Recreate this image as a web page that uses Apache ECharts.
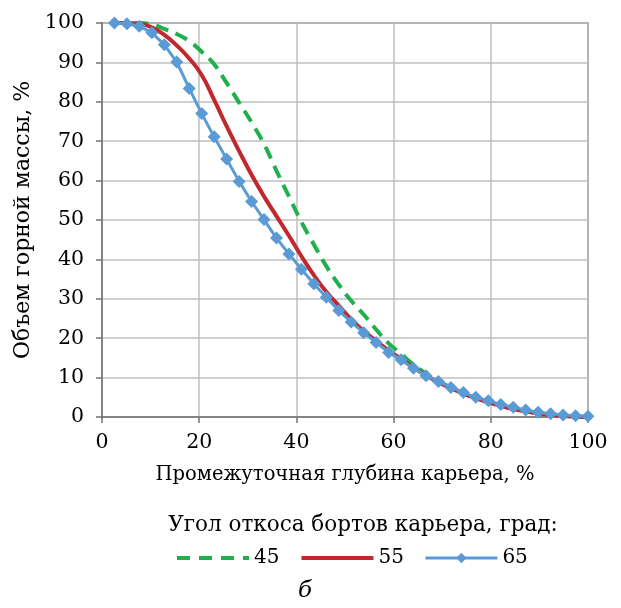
<!DOCTYPE html>
<html>
<head>
<meta charset="utf-8">
<script src="https://cdn.jsdelivr.net/npm/echarts@6/dist/echarts.min.js"></script>
<style>
  html, body { margin: 0; padding: 0; background: #fff; }
  #chart { width: 621px; height: 608px; }
</style>
</head>
<body>
<div id="chart"></div>
<script>
// Intermediate pit depth, % (39 equal steps)
const depth = [2.56, 5.13, 7.69, 10.26, 12.82, 15.38, 17.95, 20.51, 23.08, 25.64,
  28.21, 30.77, 33.33, 35.90, 38.46, 41.03, 43.59, 46.15, 48.72, 51.28,
  53.85, 56.41, 58.97, 61.54, 64.10, 66.67, 69.23, 71.79, 74.36, 76.92,
  79.49, 82.05, 84.62, 87.18, 89.74, 92.31, 94.87, 97.44, 100];

// Rock mass volume, % for each slope angle
const angle45 = [100, 100, 100, 99.6, 98.5, 97.2, 95.4, 92.7, 89.5, 84.8,
  79.8, 74.8, 69.3, 62.5, 56.0, 49.5, 43.8, 38.3, 33.6, 29.5,
  26.0, 22.2, 18.7, 16.0, 13.3, 11.0, 9.1, 7.5, 6.1, 4.9,
  3.9, 3.0, 2.2, 1.5, 1.0, 0.6, 0.3, 0.1, 0];
const angle55 = [100, 100, 99.8, 98.9, 97.0, 94.3, 91.0, 86.8, 80.5, 73.8,
  67.5, 61.5, 56.0, 51.0, 46.0, 40.8, 36.0, 31.8, 28.3, 24.8,
  21.8, 19.3, 16.9, 14.7, 12.5, 10.6, 8.8, 7.3, 5.9, 4.7,
  3.7, 2.8, 2.0, 1.4, 0.9, 0.5, 0.3, 0.1, 0];
const angle65 = [100, 99.8, 99.2, 97.5, 94.5, 90.1, 83.4, 77.0, 71.1, 65.5,
  59.8, 54.7, 50.1, 45.4, 41.4, 37.5, 33.8, 30.4, 27.0, 24.1,
  21.4, 18.9, 16.4, 14.5, 12.4, 10.5, 9.0, 7.5, 6.2, 5.0,
  4.1, 3.2, 2.5, 1.8, 1.2, 0.8, 0.5, 0.3, 0.2];

const seriesNames = ['45', '55', '65'];
const xTicks = [0, 20, 40, 60, 80, 100];
const yTicks = [0, 10, 20, 30, 40, 50, 60, 70, 80, 90, 100];

const font = '"DejaVu Serif", "Liberation Serif", serif';
const pair = (ys) => depth.map((x, i) => [x, ys[i]]);

const chart = echarts.init(document.getElementById('chart'), null, { renderer: 'canvas' });
chart.setOption({
  animation: false,
  backgroundColor: '#ffffff',
  textStyle: { fontFamily: font, color: '#000' },
  grid: {
    left: 102, top: 23, right: 33, bottom: 191,
    show: true, borderColor: '#737373', borderWidth: 1.5, backgroundColor: 'transparent'
  },
  title: [
    {
      text: 'Угол откоса бортов карьера, град:',
      left: 358, top: 509, textAlign: 'center',
      textStyle: { fontFamily: font, fontSize: 21.5, fontWeight: 'normal', color: '#000' }
    },
    {
      text: 'б',
      left: 300, top: 575, textAlign: 'center',
      textStyle: { fontFamily: font, fontSize: 23, fontStyle: 'italic', fontWeight: 'normal', color: '#000' }
    }
  ],
  legend: {
    data: [
      { name: seriesNames[0], itemStyle: { opacity: 0 }, lineStyle: { width: 4, type: [13, 9] } },
      { name: seriesNames[1], itemStyle: { opacity: 0 }, lineStyle: { width: 4 } },
      { name: seriesNames[2], lineStyle: { width: 3 } }
    ],
    left: 170, top: 543,
    itemWidth: 72, itemHeight: 13, itemGap: 20,
    textStyle: { fontFamily: font, fontSize: 20, color: '#000' }
  },
  xAxis: {
    type: 'value', min: 0, max: 100, interval: 20,
    name: 'Промежуточная глубина карьера, %',
    nameLocation: 'middle', nameGap: 48,
    nameTextStyle: { fontFamily: font, fontSize: 19.5, color: '#000' },
    axisLine: { show: true, onZero: false, lineStyle: { color: '#737373', width: 1.5 } },
    axisTick: { show: true, length: 6, lineStyle: { color: '#737373', width: 1.5 } },
    axisLabel: {
      fontFamily: font, fontSize: 20.5, color: '#000', margin: 15,
      formatter: (v) => xTicks.includes(v) ? String(v) : ''
    },
    splitLine: { show: true, lineStyle: { color: '#bfbfbf', width: 1.5 } }
  },
  yAxis: {
    type: 'value', min: 0, max: 100, interval: 10,
    name: 'Объем горной массы, %',
    nameLocation: 'middle', nameGap: 63, nameRotate: 90,
    nameTextStyle: { fontFamily: font, fontSize: 22, color: '#000' },
    axisLine: { show: true, lineStyle: { color: '#737373', width: 1.5 } },
    axisTick: { show: true, length: 6, lineStyle: { color: '#737373', width: 1.5 } },
    axisLabel: {
      fontFamily: font, fontSize: 20.5, color: '#000', margin: 18,
      formatter: (v) => yTicks.includes(v) ? String(v) : ''
    },
    splitLine: { show: true, lineStyle: { color: '#bfbfbf', width: 1.5 } }
  },
  series: [
    {
      name: seriesNames[0], type: 'line', data: pair(angle45), smooth: true,
      showSymbol: false, symbol: 'none', z: 2,
      lineStyle: { color: '#1db04b', width: 4, type: [13, 8] },
      itemStyle: { color: '#1db04b' }
    },
    {
      name: seriesNames[1], type: 'line', data: pair(angle55), smooth: true,
      showSymbol: false, symbol: 'none', z: 3,
      lineStyle: { color: '#c1272d', width: 4 },
      itemStyle: { color: '#c1272d' }
    },
    {
      name: seriesNames[2], type: 'line', data: pair(angle65), smooth: false,
      symbol: 'diamond', symbolSize: 13, z: 4,
      lineStyle: { color: '#5b9bd5', width: 3 },
      itemStyle: { color: '#5b9bd5' }
    }
  ]
});
</script>
</body>
</html>
